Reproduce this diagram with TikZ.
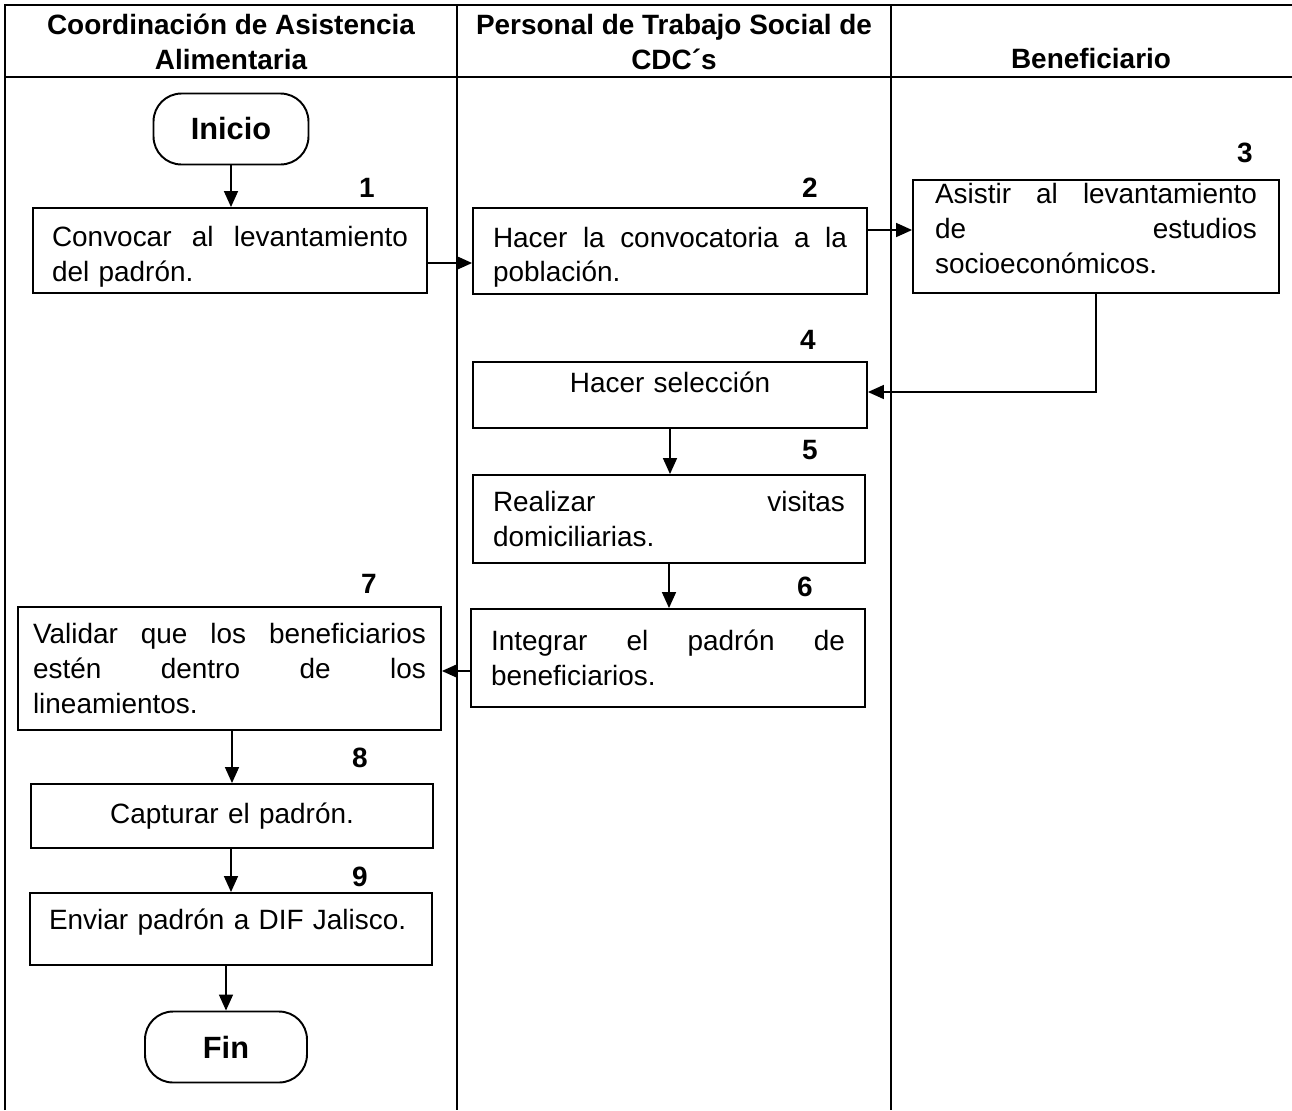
\documentclass[tikz,border=0pt]{standalone}
\usepackage{fontspec}
\setmainfont{Liberation Sans}
\usetikzlibrary{arrows.meta}
\newcommand\dfont{\fontsize{15.9pt}{19.8pt}\selectfont}
\newcommand\tfont{\fontsize{17.5pt}{20pt}\selectfont}
% a justified line: words spread with \hfill over the full box width
\newcommand\jl[1]{\leavevmode\hbox to\hsize{#1}}
\begin{document}
\begin{tikzpicture}[x=0.02cm,y=-0.02cm,
  frame/.style={line width=1.6pt},
  lane/.style={line width=0.9pt},
  stepbox/.style={draw,line width=1.1pt,font=\dfont,align=left,inner ysep=0pt},
  term/.style={draw,line width=1.1pt,rounded corners=0.56cm,font=\tfont\bfseries,
    minimum width=3.1cm,minimum height=1.42cm},
  num/.style={font=\dfont\bfseries},
  head/.style={font=\dfont\bfseries,align=center},
  arr/.style={line width=0.9pt,-{Triangle[length=0.32cm,width=0.28cm]}}]
\useasboundingbox (0,0) rectangle (1292,1110);

% lanes and header
\draw[frame] (5,1110) -- (5,5) -- (1292,5);
\draw[lane] (457,5) -- (457,1110);
\draw[lane] (891,5) -- (891,1110);
\draw[line width=1.1pt] (5,77) -- (1292,77);
\node[head] (h1) at (231,42) {Coordinación de Asistencia\\Alimentaria};
\node[head] (h2) at (674,42) {Personal de Trabajo Social de\\CDC´s};
\node[head,anchor=base] (h3) at (1091,68) {Beneficiario};

% terminals
\node[term] (ini) at (231,129) {Inicio};
\node[term,minimum width=3.24cm] (fin) at (226,1047) {Fin};

% process steps
\node[stepbox,text width=7.12cm,inner xsep=0.38cm,minimum height=1.7cm,text height=0.74cm,text depth=0.9cm] (b1) at (230,250.5)
  {\jl{Convocar\hfill al\hfill levantamiento}\\del padrón.};
\node[stepbox,text width=7.08cm,inner xsep=0.4cm,minimum height=1.72cm,text height=0.74cm,text depth=0.9cm] (b2) at (670,251)
  {\jl{Hacer\hfill la\hfill convocatoria\hfill a\hfill la}\\población.};
\node[stepbox,text width=6.44cm,inner xsep=0.44cm,minimum height=2.26cm,text depth=1.72cm] (b3) at (1096,236.5)
  {\jl{Asistir\hfill al\hfill levantamiento}\\\jl{de\hfill estudios}\\socioeconómicos.};
\node[stepbox,text width=7.08cm,inner xsep=0.4cm,minimum height=1.32cm,align=center,text depth=0.5cm] (b4) at (670,395)
  {Hacer selección};
\node[stepbox,text width=7.04cm,inner xsep=0.4cm,minimum height=1.76cm] (b5) at (669,519)
  {\jl{Realizar\hfill visitas}\\domiciliarias.};
\node[stepbox,text width=7.08cm,inner xsep=0.4cm,minimum height=1.96cm] (b6) at (668,658)
  {\jl{Integrar\hfill el\hfill padrón\hfill de}\\beneficiarios.};
\node[stepbox,text width=7.86cm,inner xsep=0.3cm,minimum height=2.46cm] (b7) at (229.5,668.5)
  {\jl{Validar\hfill que\hfill los\hfill beneficiarios}\\\jl{estén\hfill dentro\hfill de\hfill los}\\lineamientos.};
\node[stepbox,text width=7.28cm,inner xsep=0.38cm,minimum height=1.28cm,align=center] (b8) at (232,816)
  {Capturar el padrón.};
\node[stepbox,text width=7.28cm,inner xsep=0.38cm,minimum height=1.44cm,text depth=0.4cm] (b9) at (231,929)
  {Enviar padrón a DIF Jalisco.};

% step numbers
\node[num] (n1) at (367,188) {1};
\node[num] (n2) at (810,188) {2};
\node[num] (n3) at (1245,153) {3};
\node[num] (n4) at (808,340) {4};
\node[num] (n5) at (810,450) {5};
\node[num] (n6) at (805,587) {6};
\node[num] (n7) at (369,584) {7};
\node[num] (n8) at (360,758) {8};
\node[num] (n9) at (360,877) {9};

% connectors
\draw[arr] (ini.south) -- (ini.south |- b1.north);
\draw[arr] (b1.east |- 0,263) -- (b2.west |- 0,263);
\draw[arr] (b2.east |- 0,230) -- (b3.west |- 0,230);
\draw[arr] (b3.south) -- (b3.south |- 0,392) -- (b4.east |- 0,392);
\draw[arr] (b4.south) -- (b4.south |- b5.north);
\draw[arr] (b5.south) -- (b5.south |- b6.north);
\draw[arr] (b6.west |- 0,671) -- (b7.east |- 0,671);
\draw[arr] (b8.north |- b7.south) -- (b8.north);
\draw[arr] (b9.north |- b8.south) -- (b9.north);
\draw[arr] (fin.north |- b9.south) -- (fin.north);
\end{tikzpicture}
\end{document}
